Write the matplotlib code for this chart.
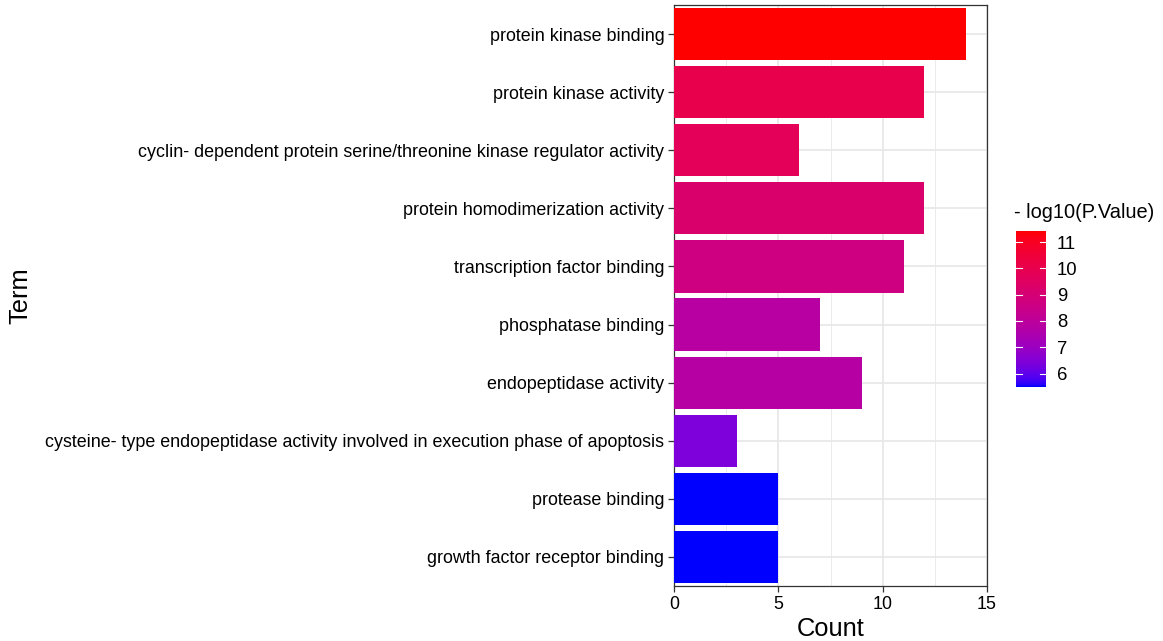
import numpy as np
import matplotlib
matplotlib.use("Agg")
import matplotlib.pyplot as plt
from matplotlib.colors import ListedColormap, Normalize

plt.rcParams['font.family'] = ['Liberation Sans', 'DejaVu Sans']

terms = [
    "protein kinase binding",
    "protein kinase activity",
    "cyclin- dependent protein serine/threonine kinase regulator activity",
    "protein homodimerization activity",
    "transcription factor binding",
    "phosphatase binding",
    "endopeptidase activity",
    "cysteine- type endopeptidase activity involved in execution phase of apoptosis",
    "protease binding",
    "growth factor receptor binding",
]
counts = [14, 12, 6, 12, 11, 7, 9, 3, 5, 5]
neg_log_p = [11.42, 10.0, 9.7, 9.2, 8.65, 7.8, 7.75, 6.4, 5.51, 5.49]


# blue -> red gradient interpolated in CIE Lab, like ggplot's scale_fill_gradient
def srgb_to_lab(rgb):
    rgb = np.asarray(rgb, float)
    lin = np.where(rgb <= 0.04045, rgb / 12.92, ((rgb + 0.055) / 1.055) ** 2.4)
    m = np.array([[0.4124, 0.3576, 0.1805],
                  [0.2126, 0.7152, 0.0722],
                  [0.0193, 0.1192, 0.9505]])
    xyz = m @ lin / np.array([0.95047, 1.0, 1.08883])
    f = np.where(xyz > 0.008856, np.cbrt(xyz), 7.787 * xyz + 16 / 116)
    return np.array([116 * f[1] - 16, 500 * (f[0] - f[1]), 200 * (f[1] - f[2])])


def lab_to_srgb(lab):
    L, a, b = lab
    fy = (L + 16) / 116
    fx = fy + a / 500
    fz = fy - b / 200
    f = np.array([fx, fy, fz])
    xyz = np.where(f ** 3 > 0.008856, f ** 3, (f - 16 / 116) / 7.787)
    xyz = xyz * np.array([0.95047, 1.0, 1.08883])
    m = np.array([[3.2406, -1.5372, -0.4986],
                  [-0.9689, 1.8758, 0.0415],
                  [0.0557, -0.2040, 1.0570]])
    lin = m @ xyz
    lin = np.clip(lin, 0, 1)
    rgb = np.where(lin <= 0.0031308, 12.92 * lin, 1.055 * lin ** (1 / 2.4) - 0.055)
    return np.clip(rgb, 0, 1)


lab_lo = srgb_to_lab([0, 0, 1])
lab_hi = srgb_to_lab([1, 0, 0])
cmap = ListedColormap([lab_to_srgb(lab_lo + t * (lab_hi - lab_lo)) for t in np.linspace(0, 1, 256)])
norm = Normalize(vmin=min(neg_log_p), vmax=max(neg_log_p))

W, H = 1163, 641
fig = plt.figure(figsize=(W / 100, H / 100), dpi=100)
ax = fig.add_axes([674 / W, 1 - 586 / H, (987 - 674) / W, (586 - 5) / H])

ypos = np.arange(len(terms))[::-1]
ax.barh(ypos, counts, height=0.9, color=cmap(norm(neg_log_p)), zorder=3)

ax.set_xlim(0, 15)
ax.set_ylim(-0.5, len(terms) - 0.5)
ax.set_xticks([0, 5, 10, 15])
ax.set_xticks([2.5, 7.5, 12.5], minor=True)
ax.set_yticks(ypos)
ax.set_yticklabels(terms)
ax.grid(True, which='major', color='#E8E8E8', linewidth=1.3, zorder=0)
ax.grid(True, which='minor', axis='x', color='#EBEBEB', linewidth=0.7, zorder=0)
ax.tick_params(which='major', length=4, width=0.9, color='#333333',
               labelsize=12.9, labelcolor='black', pad=3)
ax.tick_params(which='minor', length=0)
for s in ax.spines.values():
    s.set_color('#333333')
    s.set_linewidth(0.9)
ax.set_xlabel("Count", fontsize=18.4, labelpad=3)
ax.set_ylabel("Term", fontsize=18.4)
ax.yaxis.set_label_coords(-642 / (987 - 674), 0.5)

# colour bar legend
cax = fig.add_axes([1016 / W, 1 - 387 / H, 30 / W, (387 - 231) / H])
grad = np.linspace(norm.vmin, norm.vmax, 300).reshape(-1, 1)
cax.imshow(grad, cmap=cmap, norm=norm, aspect='auto', origin='lower',
           extent=[0, 1, norm.vmin, norm.vmax])
cax.set_xlim(0, 1)
cax.set_ylim(norm.vmin, norm.vmax)
cbar_ticks = [6, 7, 8, 9, 10, 11]
for v in cbar_ticks:
    cax.plot([0, 0.2], [v, v], color='white', lw=0.8)
    cax.plot([0.8, 1], [v, v], color='white', lw=0.8)
cax.set_yticks(cbar_ticks)
cax.yaxis.tick_right()
cax.tick_params(axis='y', length=0, labelsize=13.3, pad=8)
cax.set_xticks([])
for s in cax.spines.values():
    s.set_visible(False)
fig.text(1014 / W, 1 - 213 / H, "- log10(P.Value)", fontsize=14.4, va='center', ha='left')

fig.savefig("out.png", dpi=100)
